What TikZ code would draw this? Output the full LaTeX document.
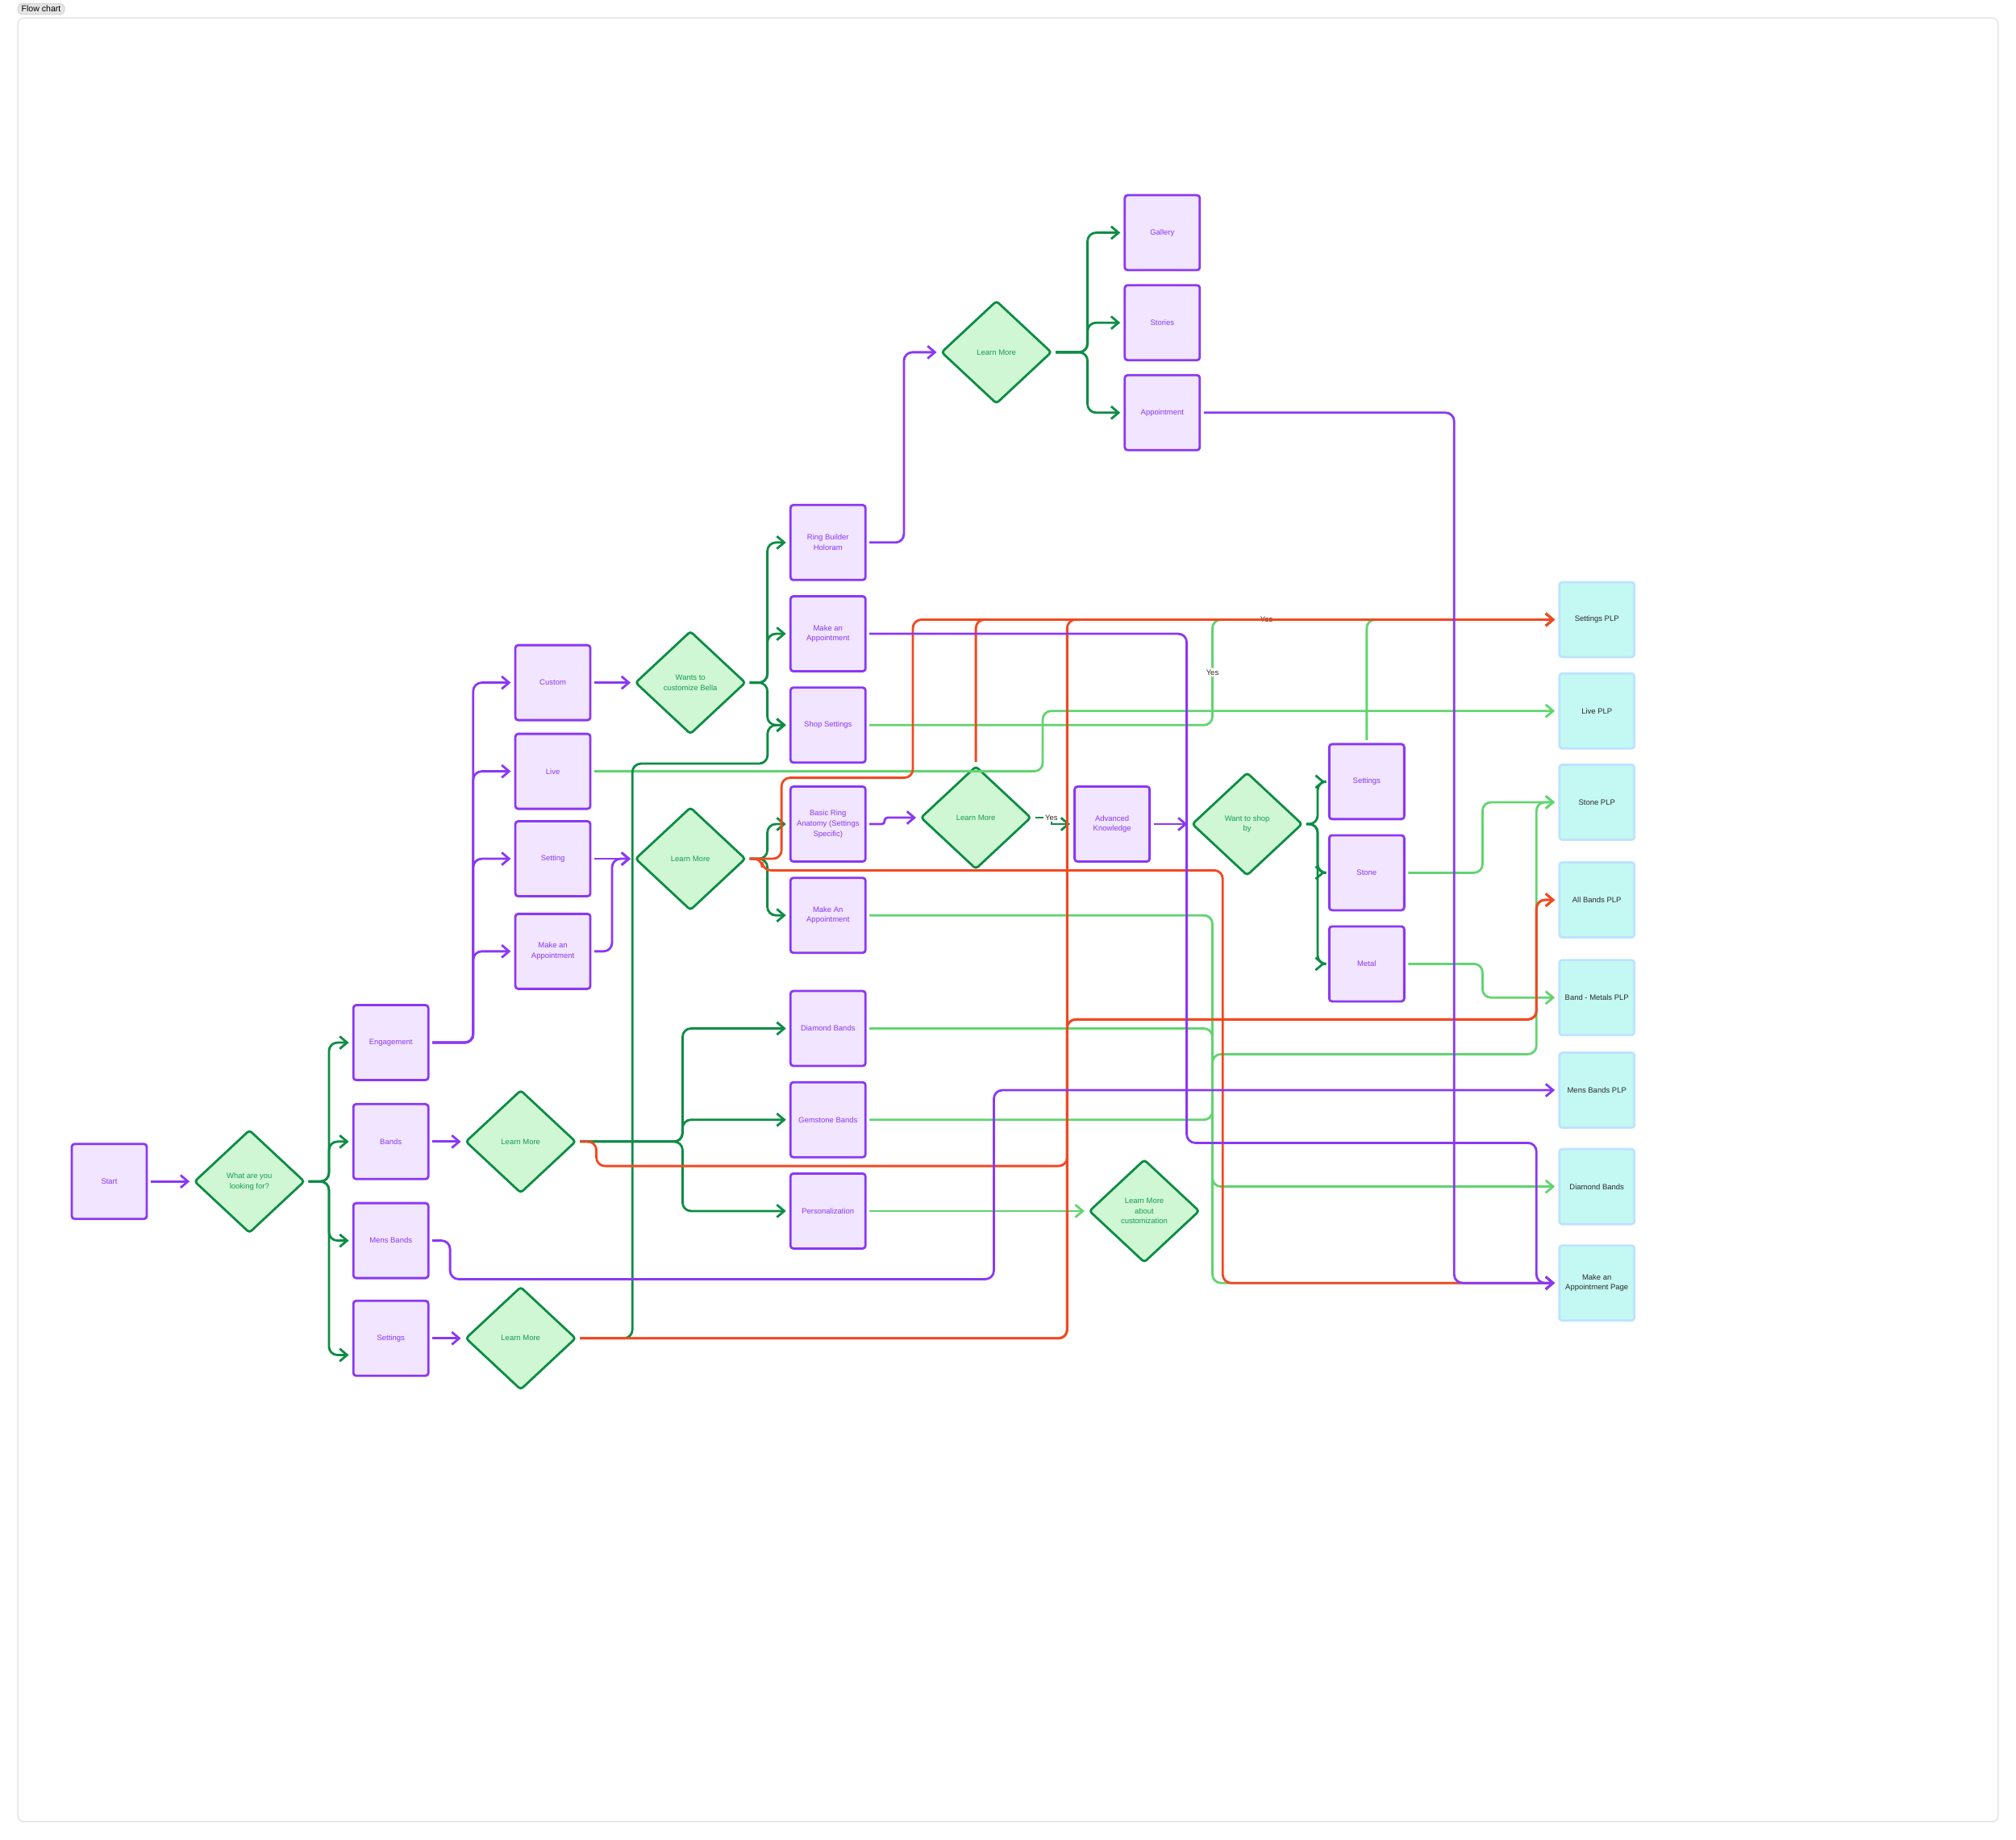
\documentclass[tikz,border=0pt]{standalone}
\usepackage{fontspec}
\setmainfont{Liberation Sans}
\usepackage{tikz}
\usetikzlibrary{arrows.meta, shapes.geometric, positioning, calc}
\definecolor{violine}{HTML}{8A38F5}
\definecolor{viofill}{HTML}{F1E5FF}
\definecolor{grnline}{HTML}{0D8C45}
\definecolor{grnfill}{HTML}{CFF7D3}
\definecolor{grntext}{HTML}{179C52}
\definecolor{lgtline}{HTML}{62D470}
\definecolor{redline}{HTML}{F24822}
\definecolor{cyanfill}{HTML}{C4F8F3}
\definecolor{cyanline}{HTML}{BDE3FF}
\definecolor{plptext}{HTML}{2B2B2B}
\definecolor{framegray}{HTML}{E6E6E6}

\begin{document}
\begin{tikzpicture}[
  x=0.15944mm, y=-0.15944mm,
  node distance=0.158cm and 0.5cm,
  every node/.style={font=\fontsize{2.7}{3.6}\selectfont},
  page/.style={
    rectangle, rounded corners=1pt,
    draw=violine, fill=viofill, line width=0.8pt,
    minimum width=0.93cm, minimum height=0.93cm,
    text=violine, align=center, inner sep=1pt
  },
  choice/.style={
    diamond, rounded corners=1pt,
    draw=grnline, fill=grnfill, line width=0.8pt,
    minimum width=1.37cm, minimum height=1.28cm,
    text=grntext, align=center, inner sep=0pt
  },
  plp/.style={
    rectangle, rounded corners=1pt,
    draw=cyanline, fill=cyanfill, line width=0.8pt,
    minimum width=0.93cm, minimum height=0.93cm,
    text=plptext, align=center, inner sep=1pt
  },
  link/.style={line width=0.8pt, rounded corners=3pt,
    -{Straight Barb[length=2.6pt, width=4.4pt]},
    shorten <=1pt, shorten >=1.2pt},
  vlink/.style={link, draw=violine},
  glink/.style={link, draw=grnline},
  llink/.style={link, draw=lgtline},
  rlink/.style={link, draw=redline},
  yeslbl/.style={fill=white, text=plptext, inner sep=0.6pt},
  tag/.style={rectangle, rounded corners=1.5pt, draw=black!15, fill=framegray,
    minimum width=0.58cm, minimum height=0.13cm, inner sep=0.4pt,
    font=\fontsize{3}{3.6}\selectfont}
]
\useasboundingbox (0,0) rectangle (1568,1431);

%% ─── Frame ──────────────────────────────────────────────────────────────────
\draw[framegray, line width=0.5pt, rounded corners=2pt] (14,14) rectangle (1554,1417);
\node[tag] (tag) at (32,7) {Flow chart};

%% ─── Entry ──────────────────────────────────────────────────────────────────
\node[page]   (start) at (85,919)  {Start};
\node[choice] (qlook) at (194,919) {What are you\\looking for?};

\node[page] (engage) at (304,811)  {Engagement};
\node[page] (bands)  at (304,888)  {Bands};
\node[page] (mens)   at (304,965)  {Mens Bands};
\node[page] (setts)  at (304,1041) {Settings};

\node[choice] (lmbands) at (405,888)  {Learn More};
\node[choice] (lmsetts) at (405,1041) {Learn More};

%% ─── Engagement column ──────────────────────────────────────────────────────
\node[page] (custom)  at (430,531) {Custom};
\node[page] (live)    at (430,600) {Live};
\node[page] (setting) at (430,668) {Setting};
\node[page] (mkappt1) at (430,740) {Make an\\Appointment};

\node[choice] (qcustom)   at (537,531) {Wants to\\customize Bella};
\node[choice] (lmsetting) at (537,668) {Learn More};

%% ─── Middle column ──────────────────────────────────────────────────────────
\node[page] (ringb)   at (644,422) {Ring Builder\\Holoram};
\node[page] (mkappt2) at (644,493) {Make an\\Appointment};
\node[page] (shopset) at (644,564) {Shop Settings};
\node[page] (anatomy) at (644,641) {Basic Ring\\Anatomy (Settings\\Specific)};
\node[page] (mkappt3) at (644,712) {Make An\\Appointment};
\node[page] (diamb)   at (644,800) {Diamond Bands};
\node[page] (gemb)    at (644,871) {Gemstone Bands};
\node[page] (perso)   at (644,942) {Personalization};

%% ─── Learn more / education ─────────────────────────────────────────────────
\node[choice] (lmtop) at (775,274) {Learn More};
\node[page] (gallery) at (904,181) {Gallery};
\node[page, below=of gallery] (stories) {Stories};
\node[page, below=of stories] (appt)    {Appointment};

\node[choice] (lmmid) at (759,636) {Learn More};
\node[page]   (advk)  at (865,641) {Advanced\\Knowledge};
\node[choice] (qshop) at (970,641) {Want to shop\\by};
\node[page] (shopsett) at (1063,608) {Settings};
\node[page, below=0.172cm of shopsett] (stone) {Stone};
\node[page, below=0.172cm of stone]    (metal) {Metal};

\node[choice] (lmcust) at (890,942) {Learn More\\about\\customization};

%% ─── Destination pages ──────────────────────────────────────────────────────
\node[plp] (plpset)   at (1242,482) {Settings PLP};
\node[plp] (plplive)  at (1242,553) {Live PLP};
\node[plp] (plpstone) at (1242,624) {Stone PLP};
\node[plp] (plpallb)  at (1242,700) {All Bands PLP};
\node[plp] (plpmetal) at (1242,776) {Band - Metals PLP};
\node[plp] (plpmens)  at (1242,848) {Mens Bands PLP};
\node[plp] (plpdiam)  at (1242,923) {Diamond Bands};
\node[plp] (pgappt)   at (1242,998) {Make an\\Appointment Page};

%% ─── Light green links ──────────────────────────────────────────────────────
\draw[llink] (live.east) -- (811,600) |- (plplive.west);
\draw[llink] (shopset.east) -- (943,564) |- node[yeslbl, pos=0.25]{Yes} (plpset.west);
\draw[llink] (shopsett.north) |- (plpset.west);
\draw[llink] (stone.east) -- ++(60,0) |- (plpstone.west);
\draw[llink] (metal.east) -- ++(60,0) |- (plpmetal.west);
\draw[llink] (mkappt3.east) -- (943,712) |- (pgappt.west);
\draw[llink] (diamb.east) -- (943,800) |- (plpdiam.west);
\draw[llink] (gemb.east) -- (943,871) |- (1195,820) |- (plpstone.west);
\draw[llink] (perso) -- (lmcust);

%% ─── Dark green links ───────────────────────────────────────────────────────
\foreach \t in {engage,bands,mens}
  \draw[glink] (qlook.east) -- ++(18,0) |- (\t.west);
\draw[glink] (qlook.east) -- ++(18,0) |- ($(setts.west)+(0,13)$);
\foreach \t in {ringb,mkappt2,shopset}
  \draw[glink] (qcustom.east) -- ++(16,0) |- (\t.west);
\foreach \t in {anatomy,mkappt3}
  \draw[glink] (lmsetting.east) -- ++(16,0) |- (\t.west);
\foreach \t in {diamb,gemb,perso}
  \draw[glink] (lmbands.east) -- ++(82,0) |- (\t.west);
\foreach \t in {gallery,stories,appt}
  \draw[glink] (lmtop.east) -- ++(27,0) |- (\t.west);
\foreach \t in {shopsett,stone,metal}
  \draw[glink] (qshop.east) -- ++(11,0) |- (\t.west);
\draw[glink] (lmsetts.east) -- ++(43,0) |- (597,594) |- (shopset.west);
\draw[glink, sharp corners] (lmmid.east) -- ++(15,0) node[yeslbl]{Yes} |- (advk.west);

%% ─── Red links ──────────────────────────────────────────────────────────────
\draw[rlink] (lmsetting.east) -- ++(27,0) |- (710,605)
  |- node[yeslbl, pos=0.774]{Yes} (plpset.west);
\draw[rlink] (lmsetting.east) -- ++(12,0) |- (951,677) |- (pgappt.west);
\draw[rlink] (lmmid.north) |- (plpset.west);
\draw[rlink] (lmsetts.east) -- (830,1041) |- (plpset.west);
\draw[rlink] (lmsetts.east) -- (830,1041) |- (1195,793) |- (plpallb.west);
\draw[rlink] (lmbands.east) -- ++(15,0) |- (830,907) |- (1195,793) |- (plpallb.west);

%% ─── Purple links ───────────────────────────────────────────────────────────
\draw[vlink] (start) -- (qlook);
\foreach \t in {custom,live,setting,mkappt1}
  \draw[vlink] (engage.east) -- ++(34,0) |- (\t.west);
\draw[vlink] (bands) -- (lmbands);
\draw[vlink] (setts) -- (lmsetts);
\draw[vlink] (custom) -- (qcustom);
\draw[vlink] (setting) -- (lmsetting);
\draw[vlink] (mkappt1.east) -- ++(16,0) |- (lmsetting.west);
\draw[vlink] (ringb.east) -- ++(29,0) |- (lmtop.west);
\draw[vlink, rounded corners=1pt] (anatomy.east) -- ++(14,0) |- (lmmid.west);
\draw[vlink] (advk) -- (qshop);
\draw[vlink] (mens.east) -- ++(16,0) |- (773,995) |- (plpmens.west);
\draw[vlink] (mkappt2.east) -- (923,493) |- (1195,889) |- (pgappt.west);
\draw[vlink] (appt.east) -| (1131,998) -- (pgappt.west);

\end{tikzpicture}
\end{document}
